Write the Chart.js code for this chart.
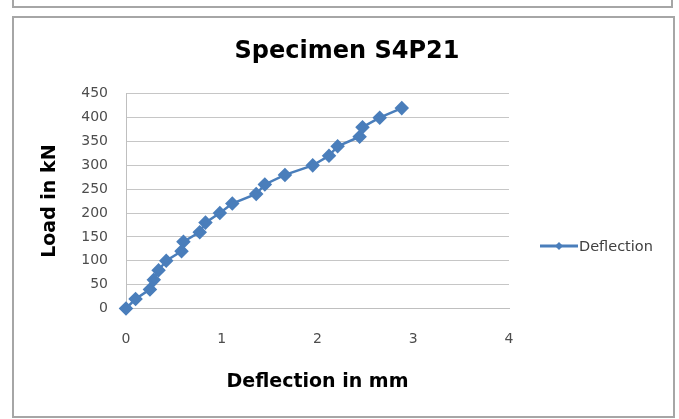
<!DOCTYPE html>
<html>
<head>
<meta charset="utf-8">
<script src="https://cdn.jsdelivr.net/npm/chart.js@4"></script>
<style>
  html, body { margin:0; padding:0; background:#fff; }
  body { width:679px; height:419px; position:relative; overflow:hidden; }
  .box { position:absolute; border:2px solid #a6a6a6; box-sizing:border-box; }
  #wrap { position:absolute; left:0; top:0; width:679px; height:419px; }
</style>
</head>
<body>
<div class="box" style="left:12px; top:-10px; width:661px; height:18px"></div>
<div class="box" style="left:12px; top:16px; width:663px; height:402px"></div>
<div id="wrap"><canvas id="chart"></canvas></div>
<script>
// readings from the reference chart
const deflection = [0, 0.10, 0.25, 0.29, 0.34, 0.42, 0.58, 0.60, 0.77, 0.83, 0.98, 1.11, 1.36, 1.45, 1.66, 1.95, 2.12, 2.21, 2.44, 2.47, 2.65, 2.88];
const load       = [0, 20, 40, 60, 80, 100, 120, 140, 160, 180, 200, 220, 240, 260, 280, 300, 320, 340, 360, 380, 400, 420];
const xTicks = [0, 1, 2, 3, 4];
const yTicks = [0, 50, 100, 150, 200, 250, 300, 350, 400, 450];

const FONT = "'DejaVu Sans', 'Liberation Sans', sans-serif";
const BLUE = '#4a7ebb';

// legend drawn at the right, Excel style: line with a marker then the text
const sideLegend = {
  id: 'sideLegend',
  afterDraw(chart) {
    const ctx = chart.ctx;
    const y = 246;
    ctx.save();
    ctx.strokeStyle = BLUE;
    ctx.lineWidth = 3;
    ctx.beginPath();
    ctx.moveTo(540, y);
    ctx.lineTo(578, y);
    ctx.stroke();
    ctx.fillStyle = BLUE;
    ctx.beginPath();
    ctx.moveTo(559, y - 4); ctx.lineTo(563, y); ctx.lineTo(559, y + 4); ctx.lineTo(555, y);
    ctx.closePath();
    ctx.fill();
    ctx.fillStyle = '#404040';
    ctx.font = `14.5px ${FONT}`;
    ctx.textBaseline = 'middle';
    ctx.fillText('Deflection', 579, y + 1);
    ctx.restore();
  }
};

new Chart(document.getElementById('chart'), {
  type: 'line',
  data: {
    datasets: [{
      label: 'Deflection',
      data: deflection.map((d, i) => ({ x: d, y: load[i] })),
      borderColor: BLUE,
      backgroundColor: BLUE,
      borderWidth: 2.5,
      pointStyle: 'rectRot',
      pointRadius: 5.5,
      pointHoverRadius: 5.5,
      tension: 0,
      clip: false,
    }],
  },
  options: {
    responsive: true,
    maintainAspectRatio: false,
    animation: false,
    layout: { padding: { left: 15, right: 0, top: 0, bottom: 0 } },
    plugins: {
      legend: { display: false },
      tooltip: { enabled: false },
      title: {
        display: true,
        text: 'Specimen S4P21',
        color: '#000',
        font: { family: FONT, size: 24, weight: 'bold', lineHeight: 1.2 },
        padding: { top: 37, bottom: 28 },
      },
    },
    scales: {
      x: {
        type: 'linear',
        min: 0, max: 4,
        afterBuildTicks: s => { s.ticks = xTicks.map(v => ({ value: v })); },
        afterFit: s => { s.height = 110.5; },
        grid: { display: false },
        border: { display: true, color: '#bfbfbf', width: 1 },
        ticks: { color: '#4d4d4d', font: { family: FONT, size: 14 }, padding: 14 },
        title: {
          display: true,
          text: 'Deflection in mm',
          color: '#000',
          font: { family: FONT, size: 19, weight: 'bold', lineHeight: 1.2 },
          padding: { top: 0, bottom: 26 },
        },
      },
      y: {
        type: 'linear',
        min: 0, max: 450,
        afterBuildTicks: s => { s.ticks = yTicks.map(v => ({ value: v })); },
        afterFit: s => { s.width = 111; },
        grid: { color: '#c6c6c6', lineWidth: 1, drawTicks: false },
        border: { display: true, color: '#bfbfbf', width: 1 },
        ticks: { color: '#4d4d4d', font: { family: FONT, size: 14 }, padding: 18 },
        title: {
          display: true,
          text: 'Load in kN',
          color: '#000',
          font: { family: FONT, size: 19, weight: 'bold', lineHeight: 1.2 },
          padding: { top: 24, bottom: 0 },
        },
      },
      // empty right-hand axis reserving the legend space
      side: {
        type: 'linear',
        position: 'right',
        min: 0, max: 1,
        afterFit: s => { s.width = 170; },
        grid: { display: false },
        border: { display: false },
        ticks: { display: false },
      },
    },
  },
  plugins: [sideLegend],
});
</script>
</body>
</html>
